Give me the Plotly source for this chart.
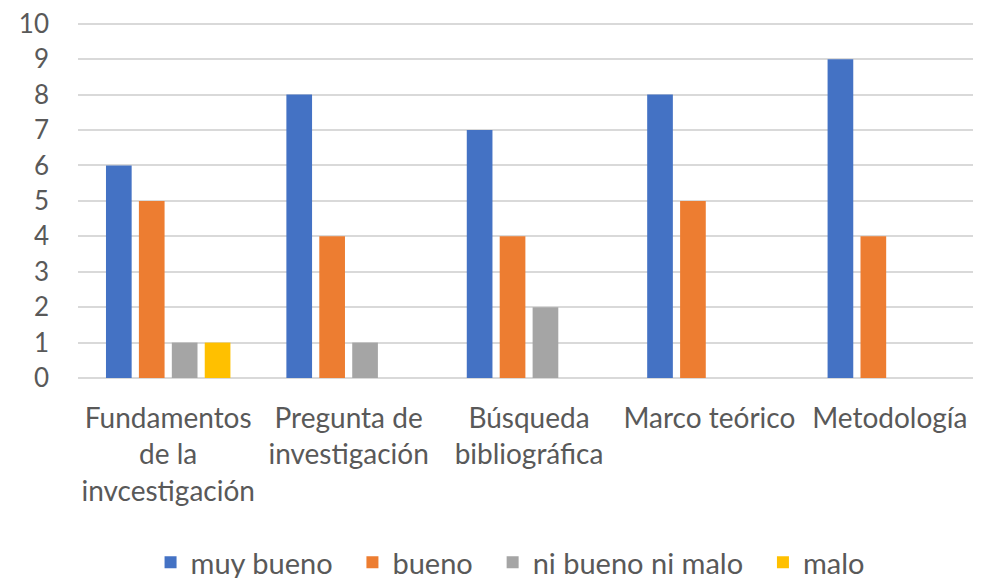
import plotly.graph_objects as go

categories = ["Fundamentos<br>de la<br>invcestigación", "Pregunta de<br>investigación",
              "Búsqueda<br>bibliográfica", "Marco teórico", "Metodología"]
series_names = ["muy bueno", "bueno", "ni bueno ni malo", "malo"]
muy_bueno = [6, 8, 7, 8, 9]
bueno = [5, 4, 4, 5, 4]
ni_bueno_ni_malo = [1, 1, 2, 0, 0]
malo = [1, 0, 0, 0, 0]
colors = ["#4472C4", "#ED7D31", "#A5A5A5", "#FFC000"]
y_ticks = list(range(0, 11))

font_family = "Lato, 'Open Sans', sans-serif"
text_color = "#595959"
pad = "\u00a0\u00a0"

fig = go.Figure()
for i, (name, vals, col) in enumerate(zip(series_names, [muy_bueno, bueno, ni_bueno_ni_malo, malo], colors)):
    label = name + (pad if i < len(series_names) - 1 else "")
    fig.add_trace(go.Bar(x=categories, y=vals, name=label, marker=dict(color=col, line=dict(width=0))))

fig.update_layout(
    width=973, height=578,
    margin=dict(l=70, r=1, t=14, b=208, autoexpand=False),
    paper_bgcolor="white", plot_bgcolor="white",
    barmode="group", bargap=0.27, bargroupgap=0.22,
    font=dict(family=font_family, color=text_color, size=28),
    showlegend=True,
    legend=dict(orientation="h", x=0.479, xanchor="center", y=-0.518, yanchor="middle",
                font=dict(size=29, color=text_color), itemwidth=30, traceorder="normal"),
    xaxis=dict(showgrid=False, tickfont=dict(size=28, color=text_color), ticks="",
               showline=False, automargin=False, ticklabelstandoff=21),
    yaxis=dict(range=[0, 10.05], tickvals=y_ticks, showgrid=True, gridcolor="#D9D9D9", gridwidth=1.5,
               zeroline=True, zerolinecolor="#D9D9D9", zerolinewidth=1.5,
               tickfont=dict(size=26, color=text_color), ticks="", ticklen=0,
               showline=False, automargin=False, ticklabelstandoff=28,
               ticklabeloverflow="allow"),
)
fig.write_html("out.html")
